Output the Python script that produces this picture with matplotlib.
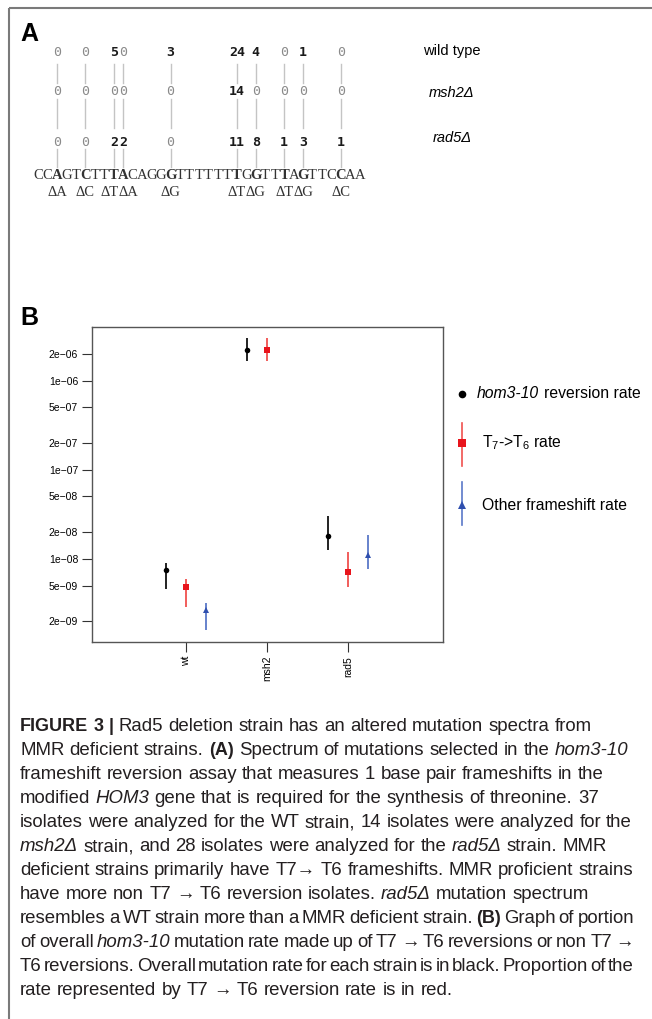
import matplotlib
matplotlib.use("Agg")
import numpy as np
import matplotlib.pyplot as plt
from matplotlib.ticker import NullLocator

plt.rcParams["font.family"] = ["Liberation Sans", "DejaVu Sans"]
plt.rcParams["mathtext.fontset"] = "custom"
plt.rcParams["mathtext.rm"] = "Liberation Sans"
plt.rcParams["mathtext.it"] = "Liberation Sans:italic"

# ---- panel A data ----
sequence = "CCAGTCTTTACAGGGTTTTTTTGGTTTAGTTCCAA"
site_index = [2, 5, 8, 9, 14, 21, 23, 26, 28, 32]
strain_names = ["wild type", "msh2Δ", "rad5Δ"]
wt_counts = [0, 0, 5, 0, 3, 24, 4, 0, 1, 0]
msh2_counts = [0, 0, 0, 0, 0, 14, 0, 0, 0, 0]
rad5_counts = [0, 0, 2, 2, 0, 11, 8, 1, 3, 1]

# ---- panel B data ----
strains = ["wt", "msh2", "rad5"]
overall_rate = [7.5e-9, 2.22e-6, 1.81e-8]
overall_lo = [4.6e-9, 1.67e-6, 1.26e-8]
overall_hi = [9.0e-9, 3.03e-6, 3.04e-8]
t7_rate = [4.84e-9, 2.22e-6, 7.14e-9]
t7_lo = [2.89e-9, 1.67e-6, 4.84e-9]
t7_hi = [5.96e-9, 3.03e-6, 1.2e-8]
other_rate = [2.67e-9, np.nan, 1.11e-8]
other_lo = [1.58e-9, np.nan, 7.7e-9]
other_hi = [3.2e-9, np.nan, 1.86e-8]
ytick_vals = [2e-9, 5e-9, 1e-8, 2e-8, 5e-8, 1e-7, 2e-7, 5e-7, 1e-6, 2e-6]

caption = [
    "**FIGURE** **3** **|** Rad5 deletion strain has an altered mutation spectra from",
    "MMR deficient strains. **(A)** Spectrum of mutations selected in the *hom3-10*",
    "frameshift reversion assay that measures 1 base pair frameshifts in the",
    "modified *HOM3* gene that is required for the synthesis of threonine. 37",
    "isolates were analyzed for the WT strain, 14 isolates were analyzed for the",
    "*msh2Δ* strain, and 28 isolates were analyzed for the *rad5Δ* strain. MMR",
    "deficient strains primarily have T7→ T6 frameshifts. MMR proficient strains",
    "have more non T7 → T6 reversion isolates. *rad5Δ* mutation spectrum",
    "resembles a WT strain more than a MMR deficient strain. **(B)** Graph of portion",
    "of overall *hom3-10* mutation rate made up of T7 → T6 reversions or non T7 →",
    "T6 reversions. Overall mutation rate for each strain is in black. Proportion of the",
    "rate represented by T7 → T6 reversion rate is in red.",
]

fig = plt.figure(figsize=(6.52, 10.19), dpi=100)
# overlay axes in pixel coordinates
ax0 = fig.add_axes([0, 0, 1, 1])
ax0.set_xlim(0, 652)
ax0.set_ylim(1019, 0)
ax0.axis("off")

# outer frame (top and left)
ax0.plot([9, 9], [8, 1019], color="#7a7a7a", lw=1.5, solid_capstyle="butt")
ax0.plot([9, 652], [8, 8], color="#7a7a7a", lw=1.5, solid_capstyle="butt")

# ---------------- panel A ----------------
ax0.text(20, 34, "A", fontsize=18, fontweight="bold", va="center", ha="left")

seq_x0, seq_dx = 38, 9.47
row_y = [52, 91, 142]
seq_y, del_y = 175, 192
col_x = [seq_x0 + seq_dx * i for i in site_index]

for cx in col_x:
    for y0, y1 in [(64, 83), (99, 128), (149, 167)]:
        ax0.plot([cx, cx], [y0, y1], color="#c4c4c4", lw=1)

for counts, y in zip([wt_counts, msh2_counts, rad5_counts], row_y):
    for cx, c in zip(col_x, counts):
        ax0.text(cx, y, str(c), family="DejaVu Sans Mono", fontsize=9.5,
                 ha="center", va="center",
                 fontweight="bold" if c > 0 else "normal",
                 color="#1a1a1a" if c > 0 else "#8a8a8a")

for i, ch in enumerate(sequence):
    ax0.text(seq_x0 + seq_dx * i, seq_y, ch, family="Liberation Serif",
             fontsize=10.5, ha="center", va="center", color="#333333",
             fontweight="bold" if i in site_index else "normal")

for k, (i, cx) in enumerate(zip(site_index, col_x)):
    lab = "Δ" + sequence[i]
    ha, x = "center", cx
    if k + 1 < len(col_x) and col_x[k + 1] - cx < 15:
        ha, x = "right", (cx + col_x[k + 1]) / 2
    elif k > 0 and cx - col_x[k - 1] < 15:
        ha, x = "left", (cx + col_x[k - 1]) / 2
    ax0.text(x, del_y, lab, family=["Liberation Serif", "DejaVu Serif"],
             fontsize=10.5, ha=ha, va="center", color="#333333")

for name, y in zip(strain_names, [51, 93, 138]):
    ax0.text(452, y, name, fontsize=10.5, ha="center", va="center",
             fontstyle="normal" if name == "wild type" else "italic")

# ---------------- panel B ----------------
ax0.text(20, 318, "B", fontsize=18, fontweight="bold", va="center", ha="left")

axB = fig.add_axes([92 / 652, 1 - 642 / 1019, (443 - 92) / 652, (642 - 327) / 1019])
xpos = np.arange(1, len(strains) + 1)
series = [
    (-0.25, overall_rate, overall_lo, overall_hi, "black", "#111111", "o", 4),
    (0.0, t7_rate, t7_lo, t7_hi, "#e8141c", "#f0504e", "s", 5),
    (0.25, other_rate, other_lo, other_hi, "#2f4fae", "#5a78c8", "^", 5),
]
for off, vals, lo, hi, col, ecol, mk, ms in series:
    vals, lo, hi = np.array(vals), np.array(lo), np.array(hi)
    ok = ~np.isnan(vals)
    axB.errorbar(xpos[ok] + off, vals[ok],
                 yerr=[vals[ok] - lo[ok], hi[ok] - vals[ok]],
                 fmt=mk, color=col, ecolor=ecol, ms=ms, mew=0,
                 elinewidth=1.3, capsize=0)

axB.set_yscale("log")
axB.set_ylim(1.16e-9, 4.0e-6)
axB.set_xlim(-0.16, 4.17)
axB.yaxis.set_minor_locator(NullLocator())
axB.set_yticks(ytick_vals)
axB.set_yticklabels([("%.0e" % v).replace("-", "\u2212") for v in ytick_vals])
axB.set_xticks(xpos)
axB.set_xticklabels(strains, rotation=90)
axB.tick_params(direction="out", length=7, width=0.8, labelsize=7.5,
                pad=3, color="#333333")
for sp in axB.spines.values():
    sp.set_color("#555555")
    sp.set_linewidth(1)

# legend (drawn by hand to match the layout)
ax0.plot(462, 394, "o", color="black", ms=5.5, mew=0)
ax0.plot([462, 462], [423, 466], color="#f0504e", lw=1.2)
ax0.plot(462, 443, "s", color="#e8141c", ms=6, mew=0)
ax0.plot([462, 462], [482, 525], color="#5a78c8", lw=1.2)
ax0.plot(462, 505, "^", color="#2f4fae", ms=6, mew=0)

renderer = fig.canvas.get_renderer()


def text_width(s, **kw):
    t = ax0.text(0, 0, s, **kw)
    w = t.get_window_extent(renderer).width
    t.remove()
    return w


leg_fs = 11.3
t = ax0.text(477, 394, "hom3-10", fontsize=leg_fs, fontstyle="italic", va="center")
x = 477 + t.get_window_extent(renderer).width
ax0.text(x + text_width("a a", fontsize=leg_fs) - text_width("aa", fontsize=leg_fs),
         394, "reversion rate", fontsize=leg_fs, va="center")
ax0.text(482, 443, r"T$_\mathregular{7}$->T$_\mathregular{6}$ rate", fontsize=leg_fs, va="center")
ax0.text(482, 505, "Other frameshift rate", fontsize=leg_fs, va="center")

# ---------------- caption ----------------
cap_fs = 13.4
cap_color = "#231f20"
space_w = text_width("a a", fontsize=cap_fs) - text_width("aa", fontsize=cap_fs)
max_w = 634 - 20
for li, line in enumerate(caption):
    y = 731 + 24 * li
    words = []
    for tok in line.split(" "):
        kw = dict(fontsize=cap_fs, color=cap_color, va="baseline")
        if tok.startswith("**"):
            tok = tok.strip("*")
            kw["fontweight"] = "bold"
            kw["fontsize"] = cap_fs - 0.4
        elif tok.startswith("*"):
            tok = tok.strip("*")
            kw["fontstyle"] = "italic"
        words.append((tok, kw, text_width(tok, **kw)))
    total = sum(w for _, _, w in words)
    gap = space_w
    if total + gap * (len(words) - 1) > max_w:
        gap = max((max_w - total) / (len(words) - 1), 1.5)
    x = 20
    for tok, kw, w in words:
        ax0.text(x, y, tok, **kw)
        x += w + gap

fig.savefig("out.png", dpi=100)
